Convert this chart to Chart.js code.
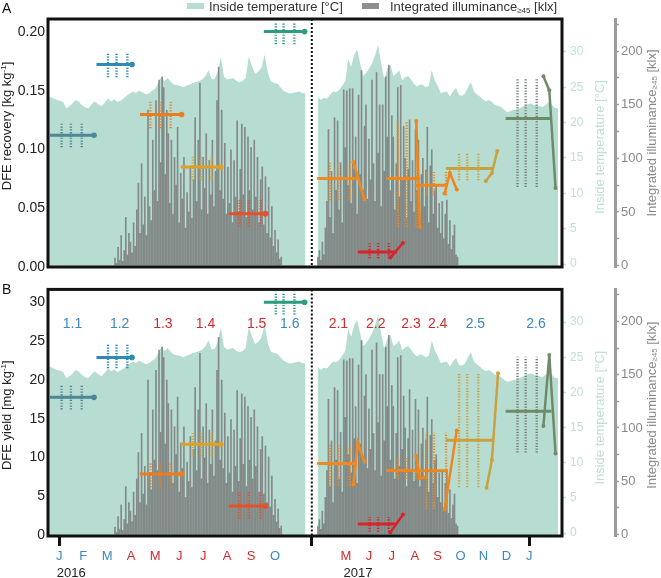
<!DOCTYPE html>
<html>
<head>
<meta charset="utf-8">
<script src="https://cdn.jsdelivr.net/npm/chart.js@4.4.1/dist/chart.umd.min.js"></script>
<style>
  body { margin: 0; background: #fff; font-family: "Liberation Sans", Arial, sans-serif; }
  #wrap { position: relative; width: 661px; height: 578px; overflow: hidden; }
  #wrap canvas { position: absolute; left: 0; }
  #chartA { top: 0; }
  #chartB { top: 278px; }
  .panel { position: absolute; left: 2px; font-size: 14px; line-height: 14px; color: #111; }
  .key { position: absolute; top: 0; font-size: 13px; line-height: 14px; color: #333; white-space: nowrap; }
  .key sub { font-size: 8px; vertical-align: -2px; line-height: 0; }
  .swatch { position: absolute; top: 3px; width: 17px; height: 6px; }
</style>
</head>
<body>
<div id="wrap">
  <canvas id="chartA" width="661" height="280"></canvas>
  <canvas id="chartB" width="661" height="300"></canvas>
  <div class="swatch" style="left:187px;background:#b7ddd3"></div>
  <div class="key" style="left:209px">Inside temperature [°C]</div>
  <div class="swatch" style="left:362px;background:#8e8e8e"></div>
  <div class="key" style="left:390px">Integrated illuminance<sub>≥45</sub> [klx]</div>
  <div class="panel" style="top:1px">A</div>
  <div class="panel" style="top:282px">B</div>
</div>
<script>
Chart.defaults.font.family = '"Liberation Sans", Arial, sans-serif';
Chart.defaults.color = '#222';

// x axis is "months since Jan 2016"; the 2017 part sits after a break and is slightly compressed
const SEG2_AT = 11.96, SEG2_SCALE = 0.956;
const X_MIN = -0.471, X_MAX = 20.97;
const breakDate = '2016-11-17';

// month ticks under panel B
const tickDates = ['2016-01-01','2016-02-01','2016-03-01','2016-04-01','2016-05-01','2016-06-01','2016-07-01','2016-08-01','2016-09-01','2016-10-01',
  breakDate,'2017-05-01','2017-06-01','2017-07-01','2017-08-01','2017-09-01','2017-10-01','2017-11-01','2017-12-01','2018-01-01'];
const tickLetters = ['J','F','M','A','M','J','J','A','S','O','','M','J','J','A','S','O','N','D','J'];
const BLUE = '#3b88c3', RED = '#d4292b';
const tickColors = [BLUE,BLUE,BLUE,RED,RED,RED,RED,RED,RED,BLUE,BLUE,RED,RED,RED,RED,RED,BLUE,BLUE,BLUE,BLUE];
const tickMarked = [0, 10, 19];
const years = [['2016', '2016-01-01'], ['2017', '2017-05-01']];

// inside temperature, one value every 4 days
const tempStep = 4;
const temp2016Start = '2015-12-17';
const temp2016 = [23.7,23.6,23.4,23.2,23.1,22.9,22.0,22.3,22.7,23.2, 23.0,22.5,22.2,22.0,22.6,23.0,22.6,22.3,22.8,23.4,
  23.0,23.3,22.9,23.1,23.4,23.8,24.1,24.4,24.2,24.5, 24.3,24.0,24.1,24.5,24.8,25.6,26.5,25.9,26.3,25.8,
  25.4,25.3,25.2,25.0,25.2,25.4,25.6,25.7,25.9,26.1, 26.6,27.4,26.1,26.2,27.2,29.3,26.5,26.1,26.2,26.3,
  25.9,25.7,25.9,26.3,29.3,28.0,26.9,27.2,27.8,29.6, 27.0,25.8,25.6,25.5,25.0,24.5,24.3,24.1,24.2,24.3,
  24.4,24.2,24.1];
const temp2017Start = '2017-03-25';
const temp2017 = [23.6,23.2,23.5,23.4,23.9,24.4,24.3,24.6,25.2,25.9, 29.0,27.9,29.6,30.3,28.5,26.6,27.0,27.6,28.4,29.5,
  31.0,28.4,26.2,27.6,28.2,26.6,26.9,27.4,26.0,26.4, 26.6,26.1,25.5,25.1,25.4,25.3,25.0,25.2,27.4,26.0,
  25.2,24.2,24.3,24.4,23.7,24.4,24.9,23.9,23.8,24.1, 25.0,25.7,24.4,24.0,23.7,23.3,23.0,23.2,22.9,22.5,
  22.4,22.2,21.8,21.5,21.6,21.8,21.8,22.0,22.2,22.4, 22.6,22.7,22.5,22.4,22.3,22.2,22.5,22.9,22.6,22.1,
  22.0];

// integrated illuminance >=45 klx, one value every 2 days
const illumStep = 2;
const illum2016Start = '2016-03-11';
const illum2016 = [7,2,17,5,28,4,14,45,10,30, 22,12,40,18,52,77,30,95,38,64,
  28,145,55,42,117,70,154,60,173,96, 176,166,85,145,123,58,117,48,101,75,
  129,40,86,62,101,35,68,50,92,44, 80,138,60,117,170,52,101,72,123,48,
  98,66,117,55,88,154,185,70,145,62, 114,48,92,58,108,40,98,64,135,50,
  90,132,66,129,45,120,70,110,52,117, 64,101,40,80,92,38,83,30,73,26,
  55,18,33,12,24,6,8];
const illum2017Start = '2017-03-25';
const illum2017 = [8,14,5,22,10,35,60,127,45,88, 30,138,70,135,52,96,40,164,110,163,
  75,165,58,165,90,120,48,159,85,182, 70,130,150,62,118,80,173,95,60,180,
  105,150,55,150,88,176,120,187,70,140, 120,52,95,166,64,168,80,130,100,45,
  90,136,60,98,50,127,70,117,45,85, 100,55,89,129,40,93,108,48,70,75,
  35,58,30,60,25,48,61,20,42,15, 28,38,10,8];

// experiments
const expNames = ['1.1','1.2','1.3','1.4','1.5','1.6','2.1','2.2','2.3','2.4','2.5','2.6'];
const expColors = ['#4f8796','#2b8bb3','#ec7d1f','#dfa02a','#e4512b','#2d9c7f','#f0891f','#d9232a','#ef861d','#ef861d','#c9a13e','#6f8a69'];
const expDotColors = ['#4f8796','#2b8bb3','#ec7d1f','#dfa02a','#e4512b','#2d9c7f','#f0891f','#d9232a','#ef861d','#ef861d','#c9a13e','#78827a'];
const expStart = ['2015-12-20','2016-02-17','2016-04-12','2016-06-03','2016-08-03','2016-09-17','2017-03-24','2017-05-17','2017-06-24','2017-08-01','2017-09-12','2017-11-30'];
const expEnd = ['2016-02-14','2016-04-02','2016-06-04','2016-07-24','2016-09-19','2016-11-08','2017-05-16','2017-07-08','2017-08-08','2017-09-13','2017-11-13','2018-01-31'];
const expSamples = [
  ['2016-01-04','2016-01-16','2016-01-30'], ['2016-03-02','2016-03-13','2016-03-27'], ['2016-04-25','2016-05-07','2016-05-21'],
  ['2016-06-18','2016-06-28','2016-07-12'], ['2016-08-17','2016-08-29','2016-09-13'], ['2016-10-02','2016-10-12','2016-10-26'],
  ['2017-04-10','2017-04-21','2017-05-06'], ['2017-06-02','2017-06-13','2017-06-27'], ['2017-07-09','2017-07-21','2017-08-03'],
  ['2017-08-17','2017-08-27','2017-09-12'], ['2017-09-29','2017-10-10','2017-10-25'], ['2017-12-16','2017-12-27','2018-01-11']];
const labelDates = ['2016-01-18','2016-03-17','2016-05-11','2016-07-04','2016-09-08','2016-10-20','2017-04-21','2017-06-10','2017-07-27','2017-09-01','2017-10-21','2018-01-10'];
const labelColors = [BLUE,BLUE,RED,RED,RED,BLUE,RED,RED,RED,RED,BLUE,BLUE];
const labelLevel = 27.2;

// panel A: DFE recovery [kg kg-1]
const recMean = [0.1121,0.1723,0.1297,0.0851,0.0454,0.2003,0.0752,0.0128,0.0752,0.0695,0.0837,0.1263];
const recLo = [0.1019,0.1614,0.1181,0.0738,0.0346,0.1895,0.0568,0.0074,0.034,0.061,0.0738,0.0681];
const recHi = [0.1231,0.1827,0.1402,0.0951,0.0568,0.2082,0.0894,0.0202,0.1234,0.0809,0.0965,0.1603];
const recPolyDates = [[],[],[],[],[],[],
  ['2017-05-11','2017-05-26'], ['2017-06-29','2017-07-16'], ['2017-08-03','2017-08-08'],
  ['2017-09-10','2017-09-17','2017-09-26'], ['2017-11-04','2017-11-12','2017-11-19'], ['2018-01-20','2018-01-28','2018-02-05']];
const recPolyVals = [[],[],[],[],[],[],
  [0.0894,0.0576], [0.008,0.0204], [0.1243,0.034],
  [0.0625,0.080,0.0659], [0.0732,0.080,0.0987], [0.1623,0.1504,0.0672]];

// panel B: DFE yield [mg kg-1]
const yieldMean = [17.76,22.9,7.9,11.72,3.76,30.0,9.25,1.43,8.32,8.3,12.23,15.97];
const yieldLo = [16.2,21.5,6.19,10.14,2.16,28.43,6.4,0.45,7.26,3.4,6.19,10.65];
const yieldHi = [19.3,24.6,9.38,13.33,5.55,31.37,11.72,2.36,10.1,13.2,20.85,22.98];
const yieldPolyDates = [[],[],[],[],[],[],
  ['2017-05-11','2017-05-17','2017-05-26'], ['2017-06-29','2017-07-16'], ['2017-08-03','2017-08-08','2017-08-16'],
  ['2017-09-10','2017-09-26'], ['2017-11-05','2017-11-12','2017-11-20'], ['2018-01-20','2018-01-28','2018-02-05']];
const yieldPolyVals = [[],[],[],[],[],[],
  [6.53,11.93,9.46], [0.37,2.67], [10.23,7.33,7.46],
  [3.3,13.5], [6.11,9.68,20.85], [14.06,23.2,10.52]];

const TEAL = '#b7ddd3', TEAL_TEXT = '#bfe0d8', GREY = '#9b9b9b';

function monthsSince2016(s) {
  const [y, m, d] = s.split('-').map(Number);
  const dim = new Date(y, m, 0).getDate();
  return (y - 2016) * 12 + (m - 1) + (d - 1) / dim;
}
function axisX(s) {
  const m = monthsSince2016(s);
  return m < 13 ? m : SEG2_AT + SEG2_SCALE * (m - 16);
}
function addDays(s, n) {
  const [y, m, d] = s.split('-').map(Number);
  return new Date(Date.UTC(y, m - 1, d + n)).toISOString().slice(0, 10);
}
function series(start, step, values) {
  return values.map((v, i) => ({ x: axisX(addDays(start, i * step)), y: v }));
}

function backgroundSets() {
  const tempStyle = { type: 'line', yAxisID: 'yT', order: 10, fill: 'start', backgroundColor: TEAL,
    borderWidth: 0, pointRadius: 0, tension: 0 };
  return [
    Object.assign({ data: series(temp2016Start, tempStep, temp2016) }, tempStyle),
    Object.assign({ data: series(temp2017Start, tempStep, temp2017) }, tempStyle),
    { type: 'bar', yAxisID: 'yI', order: 5, grouped: false, barThickness: 1, backgroundColor: 'rgba(118,118,118,0.8)',
      data: series(illum2016Start, illumStep, illum2016).concat(series(illum2017Start, illumStep, illum2017)) }
  ];
}

function expSets(mean, lo, hi, polyDates, polyVals) {
  const sets = [];
  expNames.forEach((name, i) => {
    const xs = expSamples[i].map(axisX);
    sets.push({ type: 'line', yAxisID: 'y', order: 2, spanGaps: false,
      data: xs.flatMap(x => [{ x: x, y: lo[i] }, { x: x, y: hi[i] }, { x: x, y: null }]),
      borderColor: expDotColors[i], borderWidth: 2.4, borderDash: [1.2, 1.6], pointRadius: 0 });
    const pts = [expStart[i]].concat(expSamples[i], [expEnd[i]]).map(d => ({ x: axisX(d), y: mean[i] }));
    sets.push({ type: 'line', yAxisID: 'y', order: 1, data: pts,
      borderColor: expColors[i], backgroundColor: expColors[i], borderWidth: 3, pointBorderWidth: 0,
      pointRadius: pts.map((p, k) => k === 0 ? 0 : (k === pts.length - 1 ? (i < 6 ? 2.8 : 0) : 1.8)) });
    if (polyDates[i].length) {
      sets.push({ type: 'line', yAxisID: 'y', order: 0,
        data: polyDates[i].map((d, k) => ({ x: axisX(d), y: polyVals[i][k] })),
        borderColor: expColors[i], backgroundColor: expColors[i], borderWidth: 2.5, pointRadius: 2, pointBorderWidth: 0 });
    }
  });
  return sets;
}

function drawRot(ctx, cx, cy, parts, color) {
  ctx.save();
  ctx.translate(cx, cy);
  ctx.rotate(-Math.PI / 2);
  ctx.fillStyle = color;
  ctx.textBaseline = 'middle';
  ctx.textAlign = 'left';
  let total = 0;
  parts.forEach(p => { ctx.font = p.s + 'px "Liberation Sans", Arial'; total += ctx.measureText(p.t).width; });
  let x = -total / 2;
  parts.forEach(p => {
    ctx.font = p.s + 'px "Liberation Sans", Arial';
    ctx.fillText(p.t, x, p.dy || 0);
    x += ctx.measureText(p.t).width;
  });
  ctx.restore();
}

function decor(cfg) {
  return {
    id: 'decor',
    afterDatasetsDraw(chart) {
      const { ctx, chartArea: a, scales } = chart;
      const bx = scales.x.getPixelForValue(axisX(breakDate));
      ctx.save();
      ctx.strokeStyle = '#111';
      ctx.lineWidth = 2;
      ctx.setLineDash([2, 2]);
      ctx.beginPath();
      ctx.moveTo(bx, a.top);
      ctx.lineTo(bx, a.bottom);
      ctx.stroke();
      ctx.setLineDash([]);
      ctx.lineWidth = 3;
      ctx.strokeRect(a.left, a.top, a.right - a.left, a.bottom - a.top);
      ctx.restore();
    },
    afterDraw(chart) {
      const { ctx, chartArea: a, scales } = chart;
      const mid = (a.top + a.bottom) / 2;
      drawRot(ctx, 7.5, mid + cfg.leftShift, cfg.leftTitle, '#222');
      drawRot(ctx, 600, mid + cfg.tempShift, [{ t: 'Inside temperature [°C]', s: 13 }], TEAL_TEXT);
      drawRot(ctx, 652, mid + cfg.illumShift, [{ t: 'Integrated illuminance', s: 13 }, { t: '≥45', s: 8, dy: 3 }, { t: ' [klx]', s: 13 }], '#8a8a8a');
      if (cfg.labels) {
        ctx.save();
        ctx.font = '14px "Liberation Sans", Arial';
        ctx.textAlign = 'center';
        ctx.textBaseline = 'middle';
        const ly = scales.y.getPixelForValue(labelLevel);
        expNames.forEach((n, i) => {
          ctx.fillStyle = labelColors[i];
          ctx.fillText(n, scales.x.getPixelForValue(axisX(labelDates[i])), ly);
        });
        ctx.font = '13px "Liberation Sans", Arial';
        ctx.textAlign = 'left';
        ctx.fillStyle = '#222';
        years.forEach(([t, d]) => ctx.fillText(t, scales.x.getPixelForValue(axisX(d)) - 2.5, chart.height - 5));
        ctx.restore();
      }
    }
  };
}

function rightScales() {
  return {
    yT: { position: 'right', weight: 0, min: -0.42, max: 34.65,
      afterBuildTicks: s => { s.ticks = [0, 5, 10, 15, 20, 25, 30].map(v => ({ value: v })); },
      afterFit: s => { s.width = 53; },
      border: { display: false },
      grid: { drawOnChartArea: false, tickLength: 4, tickWidth: 1.5, tickColor: TEAL_TEXT },
      ticks: { color: TEAL_TEXT, padding: 4, font: { size: 12 } } },
    yI: { position: 'right', weight: 1, min: -1.3, max: 230,
      afterBuildTicks: s => { s.ticks = [0, 25, 50, 75, 100, 125, 150, 175, 200, 225].map(v => ({ value: v })); },
      afterFit: s => { s.width = 46; },
      border: { display: true, color: GREY, width: 3 },
      grid: { drawOnChartArea: false, tickLength: 4, tickWidth: 1.5, tickColor: GREY },
      ticks: { color: '#8a8a8a', padding: 2, font: { size: 13 }, callback: v => (v % 50 === 0 ? v : '') } }
  };
}

const common = {
  responsive: false,
  animation: false,
  devicePixelRatio: 1,
  events: [],
  plugins: { legend: { display: false }, tooltip: { enabled: false } }
};

new Chart(document.getElementById('chartA'), {
  type: 'bar',
  data: { datasets: backgroundSets().concat(expSets(recMean, recLo, recHi, recPolyDates, recPolyVals)) },
  options: Object.assign({}, common, {
    layout: { padding: { top: 19, bottom: 13, left: 0, right: 0 } },
    scales: Object.assign({
      x: { type: 'linear', display: false, min: X_MIN, max: X_MAX, offset: false, grid: { offset: false } },
      y: { position: 'left', min: 0, max: 0.211,
        afterBuildTicks: s => { s.ticks = [0, 0.05, 0.1, 0.15, 0.2].map(v => ({ value: v })); },
        afterFit: s => { s.width = 48; },
        border: { display: false },
        grid: { display: false, drawTicks: false },
        ticks: { padding: 3, color: '#222', font: { size: 14 }, callback: v => v.toFixed(2) } }
    }, rightScales())
  }),
  plugins: [decor({ leftShift: -17, tempShift: 4, illumShift: -10,
    leftTitle: [{ t: 'DFE recovery [kg kg', s: 13 }, { t: '-1', s: 8, dy: -4 }, { t: ']', s: 13 }] })]
});

new Chart(document.getElementById('chartB'), {
  type: 'bar',
  data: { datasets: backgroundSets().concat(expSets(yieldMean, yieldLo, yieldHi, yieldPolyDates, yieldPolyVals)) },
  options: Object.assign({}, common, {
    layout: { padding: { top: 9, bottom: 0, left: 0, right: 0 } },
    scales: Object.assign({
      x: { type: 'linear', min: X_MIN, max: X_MAX, offset: false,
        afterBuildTicks: s => { s.ticks = tickDates.map(d => ({ value: axisX(d) })); },
        afterFit: s => { s.height = 42; },
        border: { display: false },
        grid: { offset: false, drawOnChartArea: false, tickLength: 10, tickWidth: 3,
          tickColor: c => (tickMarked.includes(c.index) ? '#111' : 'rgba(0,0,0,0)') },
        ticks: { autoSkip: false, maxRotation: 0, minRotation: 0, padding: 3, font: { size: 13 },
          color: c => tickColors[c.index], callback: (v, i) => tickLetters[i] } },
      y: { position: 'left', min: -0.1, max: 31.66,
        afterBuildTicks: s => { s.ticks = [0, 5, 10, 15, 20, 25, 30].map(v => ({ value: v })); },
        afterFit: s => { s.width = 48; },
        border: { display: false },
        grid: { display: false, drawTicks: false },
        ticks: { padding: 3, color: '#222', font: { size: 14 } } }
    }, rightScales())
  }),
  plugins: [decor({ leftShift: 2.5, tempShift: 5, illumShift: -7.5, labels: true,
    leftTitle: [{ t: 'DFE yield [mg kg', s: 13 }, { t: '-1', s: 8, dy: -4 }, { t: ']', s: 13 }] })]
});
</script>
</body>
</html>
